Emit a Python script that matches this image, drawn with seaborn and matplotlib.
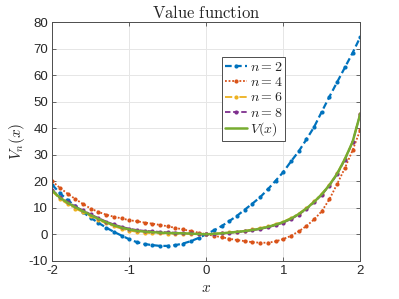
import numpy as np
import pandas as pd
import matplotlib
matplotlib.use("Agg")
import matplotlib.pyplot as plt
import seaborn as sns

x_vals = [round(-2 + 0.1 * i, 1) for i in range(41)]

v_n2 = [18.7, 15.5, 12.9, 10.6, 8.3, 6.2, 4.3, 2.5, 0.9, -0.5,
        -1.9, -3.0, -3.7, -4.1, -4.4, -4.4, -4.1, -3.5, -2.6, -1.4,
        0.0, 1.5, 3.1, 5.0, 7.0, 9.3, 11.6, 14.0, 17.0, 20.2,
        23.5, 27.5, 31.3, 35.8, 40.5, 46.3, 52.0, 57.5, 63.0, 68.5, 74.5]

v_n4 = [20.0, 17.5, 15.3, 13.3, 11.4, 9.7, 8.4, 7.4, 6.6, 6.0,
        5.3, 4.9, 4.4, 4.0, 3.5, 3.0, 2.4, 1.8, 1.2, 0.6,
        0.0, -0.6, -1.1, -1.7, -2.2, -2.6, -3.0, -3.2, -3.2, -2.7,
        -1.8, -0.6, 1.1, 3.1, 5.6, 8.7, 13.3, 19.0, 25.0, 31.7, 39.5]

v_n6 = [16.2, 13.3, 11.4, 9.7, 8.3, 6.8, 5.4, 4.1, 3.0, 2.1,
        1.4, 0.9, 0.6, 0.4, 0.3, 0.2, 0.2, 0.2, 0.15, 0.05,
        0.0, 0.2, 0.4, 0.7, 1.0, 1.3, 1.8, 2.3, 3.0, 3.8,
        4.8, 6.1, 7.8, 9.9, 12.4, 15.3, 18.7, 23.0, 28.5, 35.0, 45.6]

v_n8 = [16.7, 14.1, 12.2, 10.5, 9.0, 7.5, 6.1, 4.8, 3.7, 2.8,
        2.1, 1.6, 1.3, 1.1, 0.9, 0.7, 0.6, 0.5, 0.35, 0.15,
        0.0, 0.1, 0.3, 0.5, 0.8, 1.1, 1.5, 2.0, 2.6, 3.4,
        4.4, 5.7, 7.4, 9.5, 12.0, 14.9, 18.4, 22.7, 28.2, 34.8, 45.6]

v_true = [16.5, 13.8, 11.9, 10.2, 8.7, 7.2, 5.8, 4.5, 3.4, 2.5,
          1.8, 1.3, 1.0, 0.8, 0.6, 0.5, 0.4, 0.35, 0.25, 0.1,
          0.0, 0.15, 0.35, 0.6, 0.9, 1.2, 1.6, 2.1, 2.8, 3.6,
          4.6, 5.9, 7.6, 9.7, 12.2, 15.1, 18.6, 22.9, 28.4, 34.9, 45.5]

labels = [r"$n=2$", r"$n=4$", r"$n=6$", r"$n=8$", r"$V(x)$"]
series = [v_n2, v_n4, v_n6, v_n8, v_true]

sns.set_theme(style="whitegrid")
plt.rcParams["font.family"] = ["Liberation Sans", "DejaVu Sans"]
plt.rcParams["mathtext.fontset"] = "cm"
plt.rcParams["axes.unicode_minus"] = False

colors = ["#0072BD", "#D95319", "#EDB120", "#7E2F8E", "#77AC30"]
styles = [(0, (3.0, 1.5)), (0, (1, 1)), (0, (4, 1.5, 1, 1.5)), (0, (3.0, 1.5)), "-"]
markers = [".", ".", ".", ".", None]
widths = [1.6, 1.3, 1.3, 1.3, 1.8]

fig = plt.figure(figsize=(3.99, 2.99), dpi=100)
ax = fig.add_axes([0.131, 0.128, 0.772, 0.797])

for lab, vals, c, ls, m, lw in zip(labels, series, colors, styles, markers, widths):
    df = pd.DataFrame({"x": x_vals, "y": vals})
    kw = dict(marker=m, markersize=6, markeredgewidth=0) if m else {}
    sns.lineplot(data=df, x="x", y="y", ax=ax, color=c, linestyle=ls,
                 linewidth=lw, label=lab, **kw)

ax.set_xlim(-2, 2)
ax.set_ylim(-10, 80)
ax.set_xticks([-2, -1, 0, 1, 2])
ax.set_yticks(list(range(-10, 81, 10)))
ax.set_facecolor("white")
ax.grid(True, color="#e6e6e6", linewidth=0.7)
for s in ax.spines.values():
    s.set_color("#4d4d4d")
    s.set_linewidth(0.7)
ax.tick_params(axis="both", direction="in", length=3, width=0.6, color="#4d4d4d",
               labelsize=9.5, labelcolor="#262626", top=True, right=True, pad=3,
               left=True, bottom=True)
ax.set_title(r"$\mathrm{Value\ function}$", fontsize=12, pad=3)
ax.set_xlabel(r"$x$", fontsize=11, labelpad=3)
ax.set_ylabel(r"$V_n(x)$", fontsize=11, labelpad=1)

leg = ax.legend(loc="upper left", bbox_to_anchor=(0.552, 0.853), fontsize=10,
                handlelength=1.6, handletextpad=0.2, labelspacing=0.08,
                borderpad=0.2, borderaxespad=0, frameon=True, fancybox=False,
                edgecolor="#4d4d4d", framealpha=1)
leg.get_frame().set_linewidth(0.7)

fig.savefig("out.png", dpi=100, facecolor="white")
